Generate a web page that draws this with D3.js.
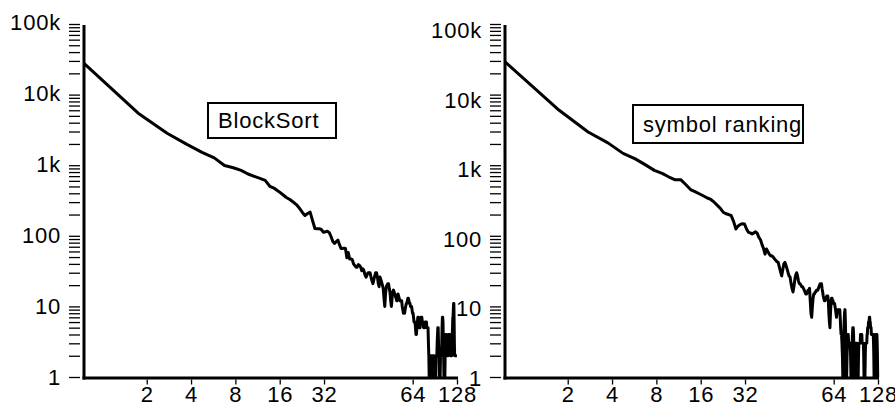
<!DOCTYPE html>
<html>
<head>
<meta charset="utf-8">
<script src="https://cdn.jsdelivr.net/npm/d3@7"></script>
<style>
  body { margin: 0; background: #fff; }
  svg text {
    font-family: "Liberation Sans", Arial, Helvetica, sans-serif;
    font-size: 22px;
    letter-spacing: 0.8px;
    fill: #000;
  }
</style>
</head>
<body>
<svg id="chart" width="895" height="416"></svg>
<script>
// Counts per rank (rank 0 .. 255)
const blockSort = [
  27700, 5450, 2830, 1970, 1520, 1270, 990, 920, 845, 750,
  695, 650, 610, 500, 468, 425, 385, 349, 327, 301,
  277, 247, 216, 194, 207, 216, 164, 127, 126, 126,
  122, 112, 114, 116, 111, 97, 83, 78, 83, 87,
  75, 66, 66, 67, 66, 49, 58, 47, 47, 46,
  40, 38, 36, 36, 39, 38, 36, 32, 34, 32,
  28, 26, 28, 30, 30, 30, 26, 23, 21, 24,
  27, 30, 30, 26, 21, 19, 26, 24, 22, 20,
  18, 13, 10, 15, 19, 20, 21, 21, 18, 16,
  12, 10, 13, 16, 17, 16, 15, 14, 13, 12,
  13, 15, 14, 13, 12, 12, 12, 12, 10, 9,
  8, 8, 8, 9, 10, 11, 11, 12, 13, 13,
  12, 11, 11, 10, 10, 10, 9, 8, 8, 7,
  6, 6, 6, 5, 4, 4, 5, 6, 7, 7,
  6, 5, 5, 5, 6, 7, 7, 7, 6, 6,
  6, 5, 5, 5, 5, 6, 6, 6, 6, 5,
  5, 5, 5, 3, 2, 1, 1, 1, 2, 1,
  1, 2, 2, 2, 2, 2, 2, 2, 1, 1,
  1, 1, 1, 2, 2, 2, 2, 3, 4, 5,
  5, 3, 2, 1, 1, 1, 1, 2, 2, 2,
  2, 3, 5, 7, 7, 6, 3, 2, 1, 1,
  1, 1, 2, 3, 4, 4, 4, 4, 3, 2,
  2, 2, 2, 3, 4, 4, 4, 4, 4, 3,
  2, 2, 2, 2, 2, 2, 3, 4, 5, 7,
  7, 9, 11, 11, 6, 3, 2, 2, 2, 2,
  2, 2, 2, 2, 2, 2
];
const symbolRanking = [
  29100, 6000, 2950, 2070, 1470, 1230, 1010, 845, 765, 680,
  620, 620, 525, 446, 418, 391, 366, 343, 327, 299,
  270, 245, 216, 205, 200, 194, 160, 125, 138, 145,
  148, 147, 125, 112, 110, 106, 110, 114, 108, 95,
  88, 75, 66, 55, 65, 60, 55, 52, 52, 50,
  47, 45, 43, 42, 36, 31, 27, 33, 40, 42,
  38, 34, 30, 27, 26, 21, 18, 16, 19, 24,
  28, 30, 27, 23, 21, 21, 20, 19, 19, 18,
  17, 16, 15, 15, 16, 17, 17, 18, 12, 8,
  7, 10, 13, 15, 15, 16, 16, 17, 17, 17,
  18, 19, 20, 21, 21, 21, 18, 16, 14, 13,
  12, 12, 13, 13, 14, 14, 14, 12, 8, 6,
  5, 8, 11, 13, 13, 12, 12, 11, 11, 11,
  10, 9, 8, 7, 8, 9, 9, 9, 9, 9,
  9, 7, 5, 4, 4, 3, 2, 1, 1, 3,
  6, 8, 9, 6, 3, 1, 1, 2, 3, 4,
  4, 3, 3, 3, 3, 3, 2, 1, 1, 1,
  3, 4, 5, 5, 4, 2, 1, 1, 1, 2,
  3, 3, 3, 3, 2, 1, 1, 1, 2, 3,
  3, 3, 3, 3, 4, 4, 4, 4, 4, 3,
  3, 3, 3, 3, 2, 1, 1, 1, 1, 2,
  3, 3, 3, 3, 3, 4, 4, 5, 5, 5,
  6, 6, 6, 7, 7, 6, 6, 5, 5, 5,
  4, 4, 4, 4, 4, 4, 4, 4, 3, 2,
  1, 1, 1, 1, 2, 3, 4, 4, 4, 4,
  4, 4, 3, 2, 1, 1
];

// Axis ticks
const xTickValues = [2, 4, 8, 16, 32, 128, 256];
const xTickLabels = ['2', '4', '8', '16', '32', '64', '128'];
const yTickValues = [1, 10, 100, 1000, 10000, 100000];
const yTickLabels = ['1', '10', '100', '1k', '10k', '100k'];
const seriesNames = ['BlockSort', 'symbol ranking'];
const seriesValues = [blockSort, symbolRanking];

const svg = d3.select('#chart');

// Panel layout
var panels = [
    { dx: 0, labelRange: [377, 22], box: { x: 208, y: 103, w: 128, h: 35 } },
    { dx: 421, labelRange: [378, 30], box: { x: 633, y: 105, w: 170, h: 38 } },
];

panels.forEach(function (p, k) {
    var x = d3.scaleLog().base(2).domain([0.75, 256]).range([84 + p.dx, 457 + p.dx]);
    var y = d3.scaleLog().domain([1, 100000]).range([377, 24]);
    var yLab = d3.scaleLog().domain([1, 100000]).range(p.labelRange);
    var g = svg.append('g');

    // Y ticks (major + minor), detached from the axis line
    var yAxis = d3.axisLeft(y).tickValues(y.ticks()).tickSize(11).tickFormat('');
    g.append('g')
        .attr('transform', 'translate(' + (80 + p.dx) + ',0)')
        .call(yAxis)
        .call((s) => s.select('.domain').remove())
        .selectAll('line')
        .attr('stroke', '#000')
        .attr('stroke-width', 1.3);

    // Y labels
    g.selectAll('.ylab')
        .data(yTickValues)
        .enter()
        .append('text')
        .attr('class', 'ylab')
        .attr('x', 61 + p.dx)
        .attr('y', (d) => yLab(d))
        .attr('dy', '0.36em')
        .attr('text-anchor', 'end')
        .text((d, i) => yTickLabels[i]);

    // X axis ticks + labels
    var xAxis = d3
        .axisBottom(x)
        .tickValues(xTickValues)
        .tickSize(5)
        .tickPadding(2)
        .tickFormat((d, i) => xTickLabels[i]);
    var xg = g.append('g').attr('transform', 'translate(0,379.5)').call(xAxis);
    xg.select('.domain').remove();
    xg.selectAll('line').attr('stroke', '#000').attr('stroke-width', 1.3);
    xg.selectAll('text').attr('font-size', null).attr('font-family', null).attr('fill', '#000');

    // Axis lines
    g.append('line')
        .attr('x1', 84 + p.dx).attr('x2', 84 + p.dx)
        .attr('y1', 25).attr('y2', 379.5)
        .attr('stroke', '#000').attr('stroke-width', 3);
    g.append('line')
        .attr('x1', 82.5 + p.dx).attr('x2', 458 + p.dx)
        .attr('y1', 378).attr('y2', 378)
        .attr('stroke', '#000').attr('stroke-width', 3);

    // Data line
    var line = d3
        .line()
        .x((d, i) => x(i + 0.75))
        .y((d) => y(d));
    g.append('path')
        .datum(seriesValues[k])
        .attr('d', line)
        .attr('fill', 'none')
        .attr('stroke', '#000')
        .attr('stroke-width', 3)
        .attr('stroke-linejoin', 'round');

    // Legend box
    g.append('rect')
        .attr('x', p.box.x).attr('y', p.box.y)
        .attr('width', p.box.w).attr('height', p.box.h)
        .attr('fill', '#fff')
        .attr('stroke', '#000')
        .attr('stroke-width', 2);
    g.append('text')
        .attr('x', p.box.x + 10)
        .attr('y', p.box.y + p.box.h / 2)
        .attr('dy', '0.36em')
        .text(seriesNames[k]);
});
</script>
</body>
</html>
